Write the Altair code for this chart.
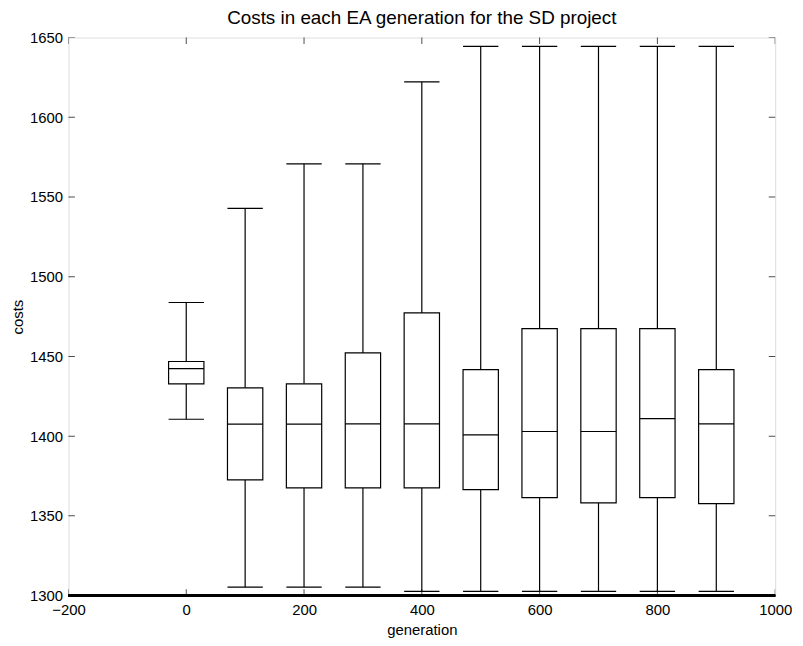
import altair as alt
import pandas as pd

# data
generations = [0, 100, 200, 300, 400, 500, 600, 700, 800, 900]
whisker_low = [1410.6, 1305.3, 1305.3, 1305.3, 1302.6, 1302.6, 1302.6, 1302.6, 1302.6, 1302.6]
quart1 = [1432.8, 1372.6, 1367.5, 1367.5, 1367.5, 1366.4, 1361.4, 1358.1, 1361.4, 1357.7]
medians = [1442.3, 1407.5, 1407.5, 1407.7, 1407.7, 1400.8, 1402.9, 1402.9, 1411.0, 1407.7]
quart3 = [1446.8, 1430.3, 1432.8, 1452.2, 1477.3, 1441.7, 1467.4, 1467.4, 1467.4, 1441.7]
whisker_high = [1483.8, 1542.8, 1570.8, 1570.8, 1622.2, 1644.5, 1644.5, 1644.5, 1644.5, 1644.5]

x_ticks = [-200, 0, 200, 400, 600, 800, 1000]
y_ticks = [1300, 1350, 1400, 1450, 1500, 1550, 1600, 1650]

HALF = 30  # half box width in data units

df = pd.DataFrame({
    "gen": generations, "low": whisker_low, "q1": quart1,
    "med": medians, "q3": quart3, "high": whisker_high,
})

FONT = "Liberation Sans"
xs = alt.Scale(domain=[-200, 1000], nice=False, zero=False)
ys = alt.Scale(domain=[1300, 1650], nice=False, zero=False)

x_axis = alt.Axis(values=x_ticks, format="d", ticks=False, domain=False, grid=False,
                  labelFontSize=15, labelFont=FONT, labelColor="black",
                  labelPadding=7, title="generation", titleFont=FONT,
                  titleFontSize=15, titleFontWeight="normal", titleColor="black",
                  titlePadding=5, labelFlush=False)
y_axis = alt.Axis(values=y_ticks, format="d", ticks=False, domain=False, grid=False,
                  labelFontSize=15, labelFont=FONT, labelColor="black",
                  labelPadding=6, title="costs", titleFont=FONT,
                  titleFontSize=15, titleFontWeight="normal", titleColor="black",
                  titlePadding=4, labelFlush=False)

base = alt.Chart(df).transform_calculate(
    xlo=f"datum.gen - {HALF}", xhi=f"datum.gen + {HALF}"
)

box = base.mark_rect(fill="white", stroke="black", strokeWidth=1.2).encode(
    x=alt.X("xlo:Q", scale=xs, axis=x_axis),
    x2="xhi:Q",
    y=alt.Y("q1:Q", scale=ys, axis=y_axis),
    y2="q3:Q",
)

rule_style = dict(color="black", strokeWidth=1.2)
whisk_lo = base.mark_rule(**rule_style).encode(x="gen:Q", y="low:Q", y2="q1:Q")
whisk_hi = base.mark_rule(**rule_style).encode(x="gen:Q", y="q3:Q", y2="high:Q")
cap_lo = base.mark_rule(**rule_style).encode(x="xlo:Q", x2="xhi:Q", y="low:Q")
cap_hi = base.mark_rule(**rule_style).encode(x="xlo:Q", x2="xhi:Q", y="high:Q")
median = base.mark_rule(**rule_style).encode(x="xlo:Q", x2="xhi:Q", y="med:Q")

# inward MATLAB-style ticks (clipped to the plot area)
xt = pd.DataFrame({"v": x_ticks})
yt = pd.DataFrame({"v": y_ticks})
tick_kw = dict(size=13, thickness=1, color="black", clip=True)
tick_b = alt.Chart(xt).mark_tick(orient="vertical", **tick_kw).encode(x="v:Q", y=alt.datum(1300))
tick_t = alt.Chart(xt).mark_tick(orient="vertical", **tick_kw).encode(x="v:Q", y=alt.datum(1650))
tick_l = alt.Chart(yt).mark_tick(orient="horizontal", **tick_kw).encode(y="v:Q", x=alt.datum(-200))
tick_r = alt.Chart(yt).mark_tick(orient="horizontal", **tick_kw).encode(y="v:Q", x=alt.datum(1000))

# thicker bottom frame line as in the reference
bottom_line = alt.Chart(xt).mark_rule(color="black", strokeWidth=2.2).encode(
    x=alt.datum(-200), x2=alt.datum(1000), y=alt.datum(1300))

chart = alt.layer(
    tick_b, tick_t, tick_l, tick_r,
    whisk_lo, whisk_hi, box, median, cap_lo, cap_hi, bottom_line,
).properties(
    width=713, height=563,
    title=alt.TitleParams("Costs in each EA generation for the SD project",
                          font=FONT, fontSize=19, fontWeight="normal",
                          color="black", anchor="middle", offset=3),
    autosize=alt.AutoSizeParams(type="none"),
    padding={"left": 61, "top": 27, "right": 20, "bottom": 40},
).configure_view(
    stroke="black", strokeWidth=1.3
).configure(background="white")

chart.save("out.html", embed_options={"renderer": "svg", "actions": False})
